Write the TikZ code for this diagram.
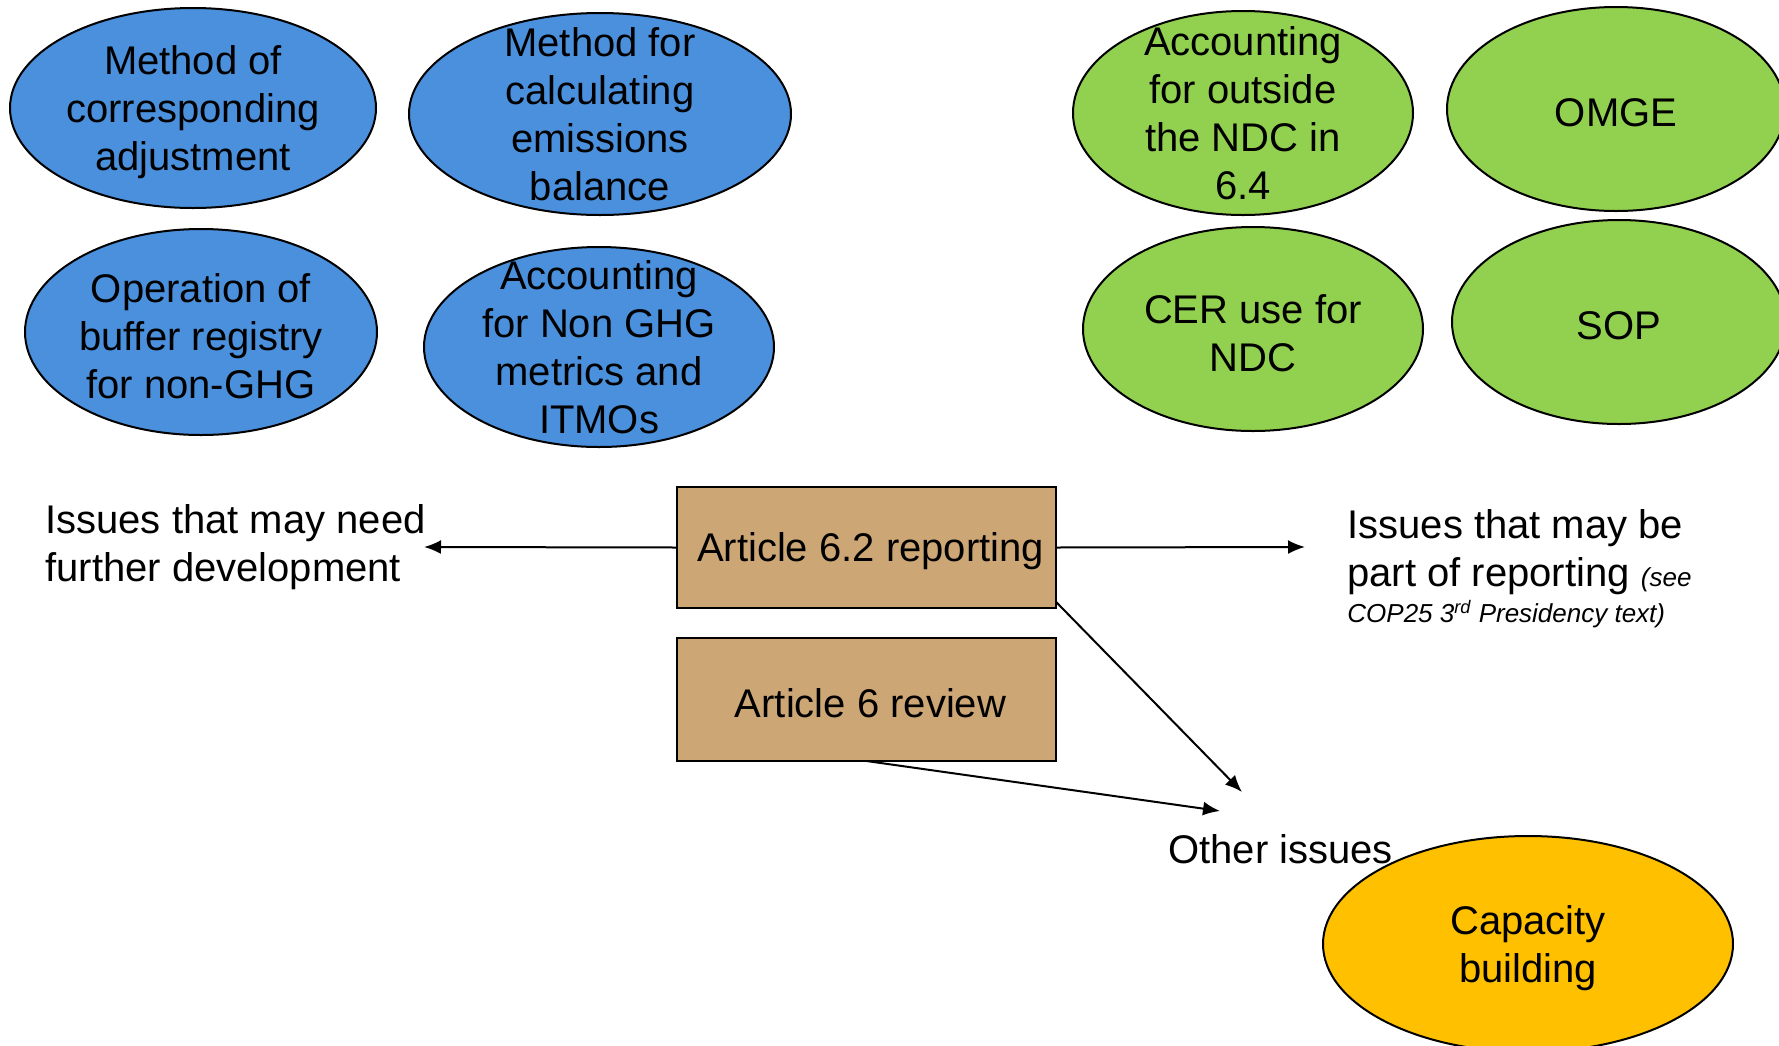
\documentclass[tikz,border=0pt]{standalone}
\usepackage{fontspec}
\setmainfont{Liberation Sans}
\usetikzlibrary{shapes.geometric,arrows.meta}
\definecolor{cblue}{HTML}{4A90DC}
\definecolor{cgreen}{HTML}{92D050}
\definecolor{corange}{HTML}{FFC000}
\definecolor{ctan}{HTML}{CDA676}
\begin{document}
\begin{tikzpicture}[x=0.5pt,y=-0.5pt,
  ell/.style={ellipse,draw=black,line width=1pt,inner sep=0pt,outer sep=0pt},
  blueell/.style={ell,fill=cblue},
  greenell/.style={ell,fill=cgreen},
  orangeell/.style={ell,fill=corange},
  lbl/.style={align=center,font=\fontsize{20}{24}\selectfont,inner sep=0pt,yshift=-2pt},
  boxn/.style={rectangle,draw=black,line width=1pt,fill=ctan,inner sep=0pt,outer sep=0pt,
    minimum width=189.5pt},
  arr/.style={-{Latex[length=8.5pt,width=7pt]},line width=1pt}]
\useasboundingbox (0,0) rectangle (1779,1045);
% blue ellipses
\node[blueell,minimum width=183pt,minimum height=100pt] (e1) at (193,108) {};
\node[lbl] (e1t) at (e1) {Method of\\corresponding\\adjustment};
\node[blueell,minimum width=191pt,minimum height=101pt] (e2) at (600,114) {};
\node[lbl,yshift=1.7pt] (e2t) at (e2) {Method for\\calculating\\emissions\\balance};
\node[blueell,minimum width=176pt,minimum height=103pt] (e3) at (201,332) {};
\node[lbl] (e3t) at (e3) {Operation of\\buffer registry\\for non-GHG};
\node[blueell,minimum width=175pt,minimum height=100pt] (e4) at (599,347) {};
\node[lbl,yshift=1.7pt] (e4t) at (e4) {Accounting\\for Non GHG\\metrics and\\ITMOs};
% green ellipses
\node[greenell,minimum width=170pt,minimum height=102pt] (g1) at (1243,113) {};
\node[lbl,yshift=1.7pt] (g1t) at (g1) {Accounting\\for outside\\the NDC in\\6.4};
\node[greenell,minimum width=169pt,minimum height=102pt] (g2) at (1616,109) {};
\node[lbl] (g2t) at (g2) {OMGE};
\node[greenell,minimum width=170pt,minimum height=102pt] (g3) at (1253,329) {};
\node[lbl] (g3t) at (g3) {CER use for\\NDC};
\node[greenell,minimum width=167pt,minimum height=102pt] (g4) at (1619,322) {};
\node[lbl] (g4t) at (g4) {SOP};
% orange ellipse
\node[orangeell,minimum width=205pt,minimum height=108pt] (o1) at (1528,944) {};
\node[lbl] (o1t) at (o1) {Capacity\\building};
% boxes
\node[boxn,minimum height=60.5pt] (b1) at (866.5,547.5) {};
\node[lbl,xshift=2pt] (b1t) at (b1) {Article 6.2 reporting};
\node[boxn,minimum height=61.5pt] (b2) at (866.5,699.5) {};
\node[lbl,xshift=2pt] (b2t) at (b2) {Article 6 review};
% texts
\node[lbl,align=left,anchor=west] (lt) at (45,543) {Issues that may need\\further development};
\node[lbl,align=left,anchor=north west] (rt) at (1347,505) {Issues that may be\\part of reporting {\fontsize{13}{15.6}\selectfont\itshape (see}\\[-6pt]
{\fontsize{13}{15.6}\selectfont\itshape COP25 3\textsuperscript{rd} Presidency text)}};
\node[lbl,anchor=west,yshift=2pt] (oi) at (1168,849) {Other issues};
% connectors
\coordinate (lend) at (424,547);
\coordinate (rend) at (1305,547);
\coordinate (oend1) at (1242,792);
\coordinate (oend2) at (1220,811);
\draw[arr] (b1.west) -- (lend);
\draw[arr] (b1.east) -- (rend);
\draw[arr] (b1.-16) -- (oend1);
\draw[arr] (b2.south) -- (oend2);
\end{tikzpicture}
\end{document}
